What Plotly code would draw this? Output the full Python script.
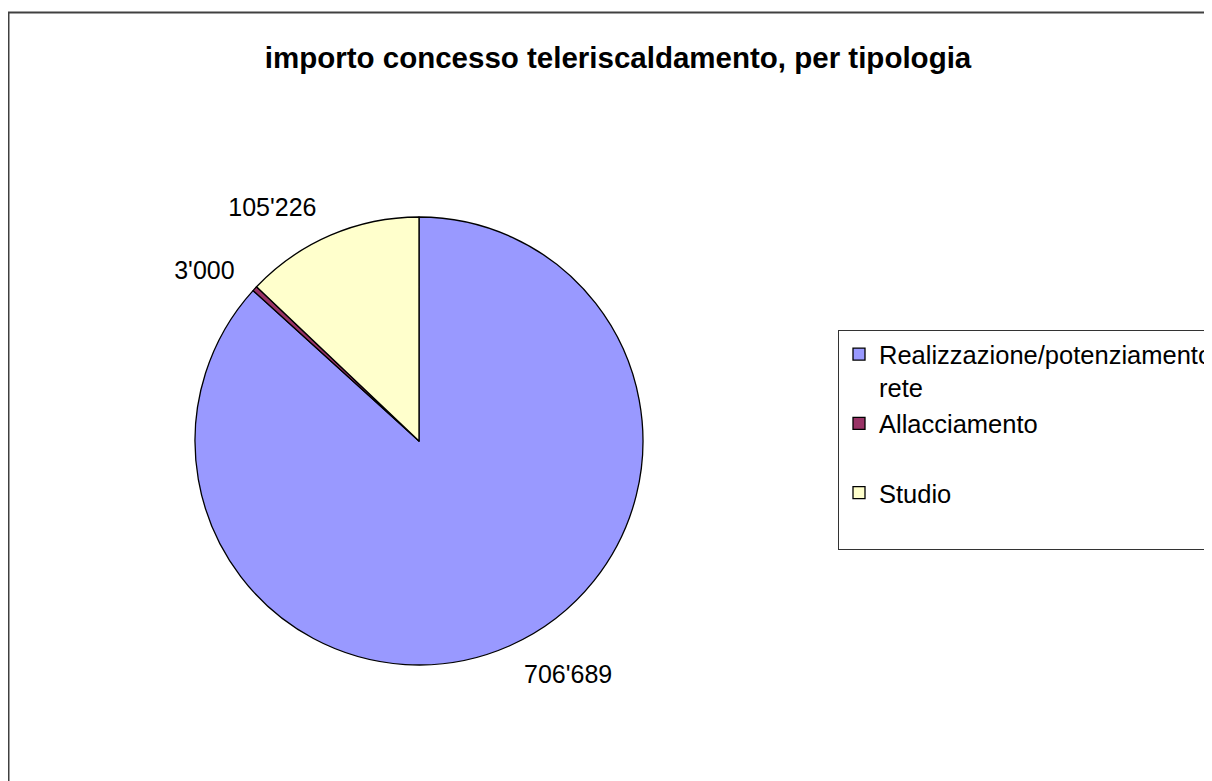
import plotly.graph_objects as go

labels = ["Realizzazione/potenziamento<br>rete", "Allacciamento<br> ", "Studio<br> "]
values = [706689, 3000, 105226]
colors = ["#9999FF", "#993366", "#FFFFCC"]
title_text = "importo concesso teleriscaldamento, per tipologia"

W, H = 1212, 781
FONT = "Liberation Sans, Arial, sans-serif"

# visible pie (slices + legend)
fig = go.Figure(go.Pie(
    labels=labels,
    values=values,
    sort=False,
    direction="clockwise",
    rotation=0,
    marker=dict(colors=colors, line=dict(color="black", width=1.3)),
    textinfo="none",
    domain=dict(x=[0.1543, 0.5239], y=[0.1588, 0.7324]),
    hoverinfo="label+value",
))

# transparent, slightly larger pie carrying the outside value labels
fig.add_trace(go.Pie(
    labels=labels,
    values=values,
    sort=False,
    direction="clockwise",
    rotation=0,
    marker=dict(colors=["rgba(0,0,0,0)"] * len(values), line=dict(width=0)),
    textposition="outside",
    texttemplate="%{value:,}",
    textfont=dict(family=FONT, size=25, color="black"),
    domain=dict(x=[0.1394, 0.5388], y=[0.1357, 0.7554]),
    showlegend=False,
    hoverinfo="skip",
))

fig.update_layout(
    width=W, height=H,
    margin=dict(l=0, r=0, t=0, b=0),
    paper_bgcolor="white",
    separators=".'",
    font=dict(family=FONT, size=25, color="black"),
    title=dict(text="<b>" + title_text + "</b>", x=610 / W, xanchor="center",
               y=1 - 50 / H, yanchor="middle",
               font=dict(size=29.5, family=FONT, color="black")),
    showlegend=True,
    legend=dict(
        x=830 / W, xanchor="left", y=1 - 322 / H, yanchor="top",
        bordercolor="#333333", borderwidth=1, bgcolor="white",
        valign="top",
        font=dict(size=25.5, family=FONT, color="black"),
    ),
    shapes=[
        dict(type="rect", xref="paper", yref="paper",
             x0=0.5 / W, x1=1.05, y0=-0.05, y1=1 - 4.5 / H,
             line=dict(color="#404040", width=2), fillcolor="rgba(0,0,0,0)"),
    ],
)

fig.write_html("out.html")
